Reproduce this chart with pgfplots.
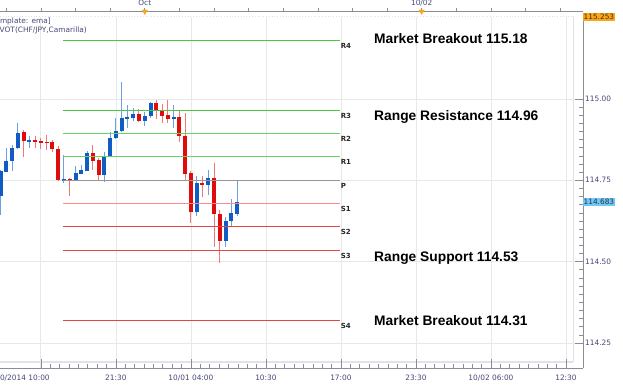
\documentclass[border=0pt]{standalone}
\usepackage{fontspec}
\setmainfont{DejaVu Sans}
\newfontfamily\arial{Liberation Sans}
\usepackage{pgfplots}
\pgfplotsset{compat=1.18}
\usepackage{pgfplotstable}

\definecolor{upbody}{RGB}{16,92,196}
\definecolor{upwick}{RGB}{110,160,225}
\definecolor{dnbody}{RGB}{222,12,12}
\definecolor{dnwick}{RGB}{240,120,120}
\definecolor{pivgreen}{RGB}{70,200,70}
\definecolor{pivgreenlight}{RGB}{100,212,100}
\definecolor{sred}{RGB}{225,70,70}
\definecolor{s1red}{RGB}{255,140,140}
\definecolor{pgray}{RGB}{150,150,150}
\definecolor{ticktext}{RGB}{70,70,120}
\definecolor{gridc}{RGB}{232,232,232}
\definecolor{axisc}{RGB}{140,140,150}
\definecolor{framec}{RGB}{222,226,234}
\definecolor{pricebox}{RGB}{255,165,20}
\definecolor{lastbox}{RGB}{110,200,250}

% i = half-hour index (i=25 -> 10/01 00:00)
\pgfplotstableread{
i O H L C
0 114.702 114.782 114.643 114.779
1 114.776 114.848 114.774 114.810
2 114.808 114.859 114.779 114.850
3 114.848 114.927 114.846 114.896
5 114.869 114.886 114.849 114.874
11 114.749 114.828 114.741 114.754
13 114.749 114.794 114.749 114.772
14 114.770 114.797 114.769 114.783
15 114.780 114.841 114.779 114.835
18 114.766 114.838 114.746 114.826
19 114.825 114.899 114.823 114.880
20 114.879 114.942 114.877 114.902
21 114.900 115.053 114.899 114.943
22 114.939 114.982 114.912 114.944
23 114.942 114.971 114.932 114.954
25 114.933 114.961 114.917 114.948
26 114.948 114.992 114.942 114.988
30 114.939 114.980 114.910 114.946
34 114.654 114.763 114.640 114.742
36 114.736 114.782 114.705 114.756
39 114.564 114.638 114.546 114.626
40 114.625 114.692 114.610 114.649
41 114.647 114.750 114.641 114.683
}\upT

\pgfplotstableread{
i O H L C
4 114.897 114.905 114.823 114.871
6 114.874 114.887 114.848 114.867
7 114.870 114.879 114.846 114.866
8 114.868 114.889 114.843 114.864
9 114.867 114.874 114.838 114.846
10 114.847 114.856 114.749 114.751
12 114.754 114.756 114.702 114.749
16 114.833 114.859 114.782 114.810
17 114.812 114.820 114.751 114.766
24 114.954 114.968 114.930 114.932
27 114.987 114.997 114.939 114.963
28 114.963 114.985 114.925 114.949
29 114.950 114.998 114.925 114.939
31 114.946 114.963 114.868 114.885
32 114.886 114.957 114.751 114.769
33 114.773 114.779 114.619 114.654
35 114.742 114.762 114.699 114.736
37 114.756 114.802 114.546 114.646
38 114.646 114.659 114.497 114.564
}\dnT

\begin{document}
\begin{tikzpicture}[x=1pt,y=1pt]
% inner frame
\draw[framec, line width=0.8pt, dotted] (0,371) -- (573,371);
\draw[framec, line width=1pt] (573,371) -- (573,25);
\draw[framec, line width=1.6pt] (0,25) -- (573,25);

\begin{axis}[
  at={(0pt,19pt)}, anchor=south west,
  scale only axis, width=583pt, height=351pt,
  xmin=-0.087, xmax=100.95, ymin=114.173, ymax=115.252,
  axis x line*=bottom, axis y line*=right,
  axis line style={draw=axisc, line width=0.8pt},
  tick align=inside,
  major tick length=8.5pt, minor tick length=4pt,
  tick style={draw=axisc, line width=0.6pt},
  xtick={7,20,33,46,59,72,85,98},
  xticklabels={,21:30,10/01 04:00,10:30,17:00,23:30,10/02 06:00,12:30},
  minor x tick num=7,
  ytick={114.25,114.5,114.75,115},
  yticklabels={114.25,114.50,114.75,115.00},
  minor y tick num=9,
  grid=major, major grid style={draw=gridc, line width=0.8pt},
  ticklabel style={font=\fontsize{7.4}{8}\selectfont, text=ticktext},
  xticklabel style={anchor=north, inner sep=0pt, yshift=-7pt},
  yticklabel style={anchor=west, inner sep=0pt, xshift=2pt},
  clip=false,
]
% wicks
\addplot[draw=none, forget plot, error bars/.cd, y dir=both, y explicit, error mark=none,
  error bar style={draw=upwick, line width=1pt}]
  table[x=i, y=C, y error plus expr={\thisrow{H}-\thisrow{C}}, y error minus expr={\thisrow{C}-\thisrow{L}}] \upT;
\addplot[draw=none, forget plot, error bars/.cd, y dir=both, y explicit, error mark=none,
  error bar style={draw=dnwick, line width=1pt}]
  table[x=i, y=C, y error plus expr={\thisrow{H}-\thisrow{C}}, y error minus expr={\thisrow{C}-\thisrow{L}}] \dnT;
% bodies
\addplot[draw=none, forget plot, error bars/.cd, y dir=both, y explicit, error mark=none,
  error bar style={draw=upbody, line width=4pt}]
  table[x=i, y=C, y error plus expr={0}, y error minus expr={max(\thisrow{C}-\thisrow{O},0.003)}] \upT;
\addplot[draw=none, forget plot, error bars/.cd, y dir=both, y explicit, error mark=none,
  error bar style={draw=dnbody, line width=4pt}]
  table[x=i, y=C, y error plus expr={max(\thisrow{O}-\thisrow{C},0.003)}, y error minus expr={0}] \dnT;

% Camarilla pivot levels
\addplot[draw=pivgreen, line width=1pt] coordinates {(10.83,115.179) (58.84,115.179)};
\addplot[draw=pivgreen, line width=1pt] coordinates {(10.83,114.965) (58.84,114.965)};
\addplot[draw=pivgreenlight, line width=1.2pt] coordinates {(10.83,114.895) (58.84,114.895)};
\addplot[draw=pivgreenlight, line width=1.2pt] coordinates {(10.83,114.822) (58.84,114.822)};
\addplot[draw=pgray, line width=1pt] coordinates {(10.83,114.750) (58.84,114.750)};
\addplot[draw=s1red, line width=1.5pt] coordinates {(10.83,114.678) (58.84,114.678)};
\addplot[draw=sred, line width=1pt] coordinates {(10.83,114.607) (58.84,114.607)};
\addplot[draw=sred, line width=1pt] coordinates {(10.83,114.535) (58.84,114.535)};
\addplot[draw=sred, line width=1pt] coordinates {(10.83,114.318) (58.84,114.318)};

\begin{scope}[every node/.style={anchor=north west, inner sep=0pt, yshift=-2.7pt,
    font=\bfseries\fontsize{7}{8}\selectfont, text=black!85}]
\node at (axis cs:58.95,115.179) {R4};
\node at (axis cs:58.95,114.965) {R3};
\node at (axis cs:58.95,114.895) {R2};
\node at (axis cs:58.95,114.822) {R1};
\node at (axis cs:58.95,114.750) {P};
\node at (axis cs:58.95,114.678) {S1};
\node at (axis cs:58.95,114.607) {S2};
\node at (axis cs:58.95,114.535) {S3};
\node at (axis cs:58.95,114.318) {S4};
\end{scope}

\node[anchor=north west, inner sep=0pt, yshift=-7pt, font=\fontsize{7.4}{8}\selectfont, text=ticktext]
  at (axis cs:-3,114.173) {09/30/2014 10:00};
\node[anchor=west, fill=pricebox, inner xsep=0.4pt, inner ysep=1.3pt, font=\fontsize{7.4}{8}\selectfont, text=black!80]
  at (axis cs:100.95,115.252) {115.253};
\node[anchor=west, fill=lastbox, inner xsep=0.4pt, inner ysep=1.3pt, font=\fontsize{7.4}{8}\selectfont, text=black!80]
  at (axis cs:100.95,114.683) {114.683};
\end{axis}

% top time strip
\begin{axis}[
  at={(0pt,19pt)}, anchor=south west,
  scale only axis, width=583pt, height=357pt,
  xmin=-0.087, xmax=100.95, ymin=0, ymax=1,
  axis x line*=top, hide y axis,
  axis line style={draw=axisc, line width=0.8pt},
  tick align=outside, major tick length=3pt,
  tick style={draw=axisc, line width=0.6pt},
  xtick={1,7,...,97}, xticklabels={},
  clip=false,
]
\addplot[only marks, mark=triangle*, mark size=3pt,
  mark options={rotate=180, fill=pricebox, draw=pricebox}]
  coordinates {(25,0.9986) (73,0.9986)};
\node[anchor=base, inner sep=0pt, yshift=5.6pt, font=\fontsize{7.4}{8}\selectfont, text=ticktext]
  at (axis cs:25,1) {Oct};
\node[anchor=base, inner sep=0pt, yshift=5.6pt, font=\fontsize{7.4}{8}\selectfont, text=ticktext]
  at (axis cs:73,1) {10/02};
\end{axis}

% header texts
\node[anchor=base east, inner sep=0pt, font=\fontsize{7.4}{8}\selectfont, text=ticktext]
  at (51,363) {[Template: ema]};
\node[anchor=base east, inner sep=0pt, font=\fontsize{7.4}{8}\selectfont, text=ticktext]
  at (87,354.5) {PIVOT(CHF/JPY,Camarilla)};

% level annotations
\begin{scope}[every node/.style={anchor=base west, inner sep=0pt,
    font=\arial\bfseries\fontsize{13.8}{15}\selectfont, text=black}]
\node at (374,343.5) {Market Breakout 115.18};
\node at (374,266) {Range Resistance 114.96};
\node at (374,125.3) {Range Support 114.53};
\node at (374,61.5) {Market Breakout 114.31};
\end{scope}

\pgfresetboundingbox
\path[use as bounding box] (0,0) rectangle (623,387);
\end{tikzpicture}
\end{document}
